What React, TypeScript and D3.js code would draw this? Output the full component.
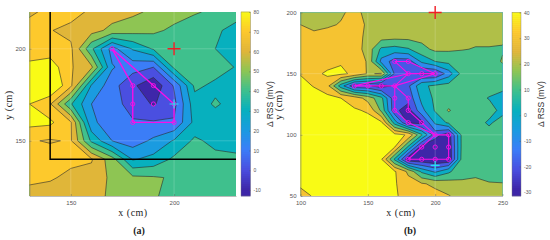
import React, { useEffect, useRef } from "react";
import * as d3 from "d3";

const gridA = [
  [68, 73, 74, 68, 65, 62, 58, 54, 51, 48, 45],
  [75, 70.5, 67, 64, 57, 54, 52, 48, 44, 42, 36],
  [76, 74, 72, 42, 16, 31, 41, 49, 46, 40, 34],
  [82, 86, 71, 62, 21, 14, 10, 42, 46, 44, 39.5],
  [84, 92, 72, 29, 14, 2, -8, 11, 42, 38, 36],
  [80, 71, 41, 20, 14, 6, -1, 7, 36, 41, 37],
  [83, 82, 71, 22, 15, 11, 11, 11, 33, 36, 35],
  [71, 69, 71, 38, 20, 15, 22, 31, 42, 37, 38],
  [73, 76, 72, 71, 54, 29, 33, 42, 45, 43, 41],
  [72, 71, 68, 66, 58, 52, 51, 49, 46, 46, 45],
  [67, 66, 65, 64, 58, 55, 51, 47, 45, 45, 44],
];

const gridB = [
  [25, 26, 27, 29, 32, 28, 26, 26, 26, 25, 24, 24, 23, 23, 22, 22],
  [30, 28, 29, 30.5, 33, 29, 26, 25, 25, 24, 24, 24, 23, 23, 23, 23],
  [33, 32, 33, 34, 35, 27, 24, 23, 23, 23, 23, 22, 22, 22, 22, 22],
  [34, 34, 34, 35, 35, 26, 8, 6, 9, 17, 22, 21.5, 20.5, 19.5, 19.5, 19],
  [35, 35, 35, 39, 36, 29, -3, -15, -15, 2, 10, 13, 14, 14, 14, 21],
  [39.5, 37, 42, 42, 38, 29, 31, -12, -18, -21, -21, -5, 13.5, 14, 14, 14],
  [43, 39.5, 33, 5, -18, -18, -25, -18, -12, 8, 12, 14, 14, 14, 14, 14],
  [44, 44, 43, 40, 36, 26, 13, -18, -17, 3, 12, 14, 14, 13, 9.5, 5],
  [44, 44, 44, 43, 41, 39, 18, -18, -24, -3, 11, 21, 14, 13, 14, 7],
  [44, 44, 44, 44, 43, 43, 42, 5, -22, -23, 2, 12, 14, 14, 8.5, 14],
  [44, 44, 44, 44, 44, 44, 44, 43, 39, 11, -16, -26, 13, 14, 14, 14],
  [44, 44, 44, 44, 44, 44, 44, 40, 8, -25, -28, -28, 13, 14, 14, 14],
  [44, 44, 44, 44, 44, 44, 41, 8, -28, -28, -30, -29, 14, 14, 14, 14],
  [43, 44, 44, 44, 44, 44, 43, 41, 28, 8, -2, 8, 18, 19, 14, 14],
  [42, 44, 44, 44, 44, 44, 43, 41, 34, 31, 28, 25, 21, 21, 21, 20.5],
  [36, 41, 44, 44, 44, 44, 43, 41, 37, 35, 33, 30.5, 27, 25, 25, 25],
];

const levelsA = d3.range(-10, 81, 10);
const levelsB = d3.range(-30, 41, 10);
const barTicksA = d3.range(-10, 81, 10);
const barTicksB = d3.range(-30, 41, 10);

const pathA = [[170, 200], [190, 180], [200, 170], [200, 160], [180, 160], [180, 170], [180, 180], [170, 200]];
const dotsA = [[170, 200], [190, 180], [200, 170], [200, 160], [180, 160], [180, 170], [180, 180], [190, 170]];

const pathB1 = [
  [170, 160], [180, 160], [200, 150], [180, 150], [170, 160], [180, 150], [140, 140], [170, 140], [200, 150],
];
const pathB2 = [
  [180, 150], [170, 140], [180, 130], [180, 120], [190, 110], [200, 100], [210, 100], [210, 90], [210, 80],
  [180, 80], [200, 100],
];
const pathB3 = [[170, 140], [170, 130], [170, 120], [180, 110], [200, 100]];
const dotsB = [
  [170, 160], [180, 160], [180, 150], [190, 150], [200, 150], [140, 140], [150, 140], [160, 140], [170, 140],
  [170, 130], [180, 130], [170, 120], [180, 120], [180, 110], [190, 110], [200, 100], [210, 100], [190, 90],
  [200, 90], [210, 90], [180, 80], [190, 80], [200, 80], [210, 80],
];

const parulaStops = ["#3e26a8", "#4a4fe0", "#3b7ef8", "#1a9be0", "#06b0bf", "#3fc08d", "#90c552", "#dfb53a", "#fdc82d", "#f9fb15"];
const parulaPos = [0.03, 0.14, 0.25, 0.355, 0.46, 0.57, 0.68, 0.78, 0.89, 1];
const parula = d3.scaleLinear<string>().domain(parulaPos).range(parulaStops).clamp(true);

type Panel = {
  grid: number[][];
  levels: number[];
  barTicks: number[];
  cLim: [number, number];
  xDom: [number, number];
  yDom: [number, number];
  xTicks: number[];
  yTicks: number[];
  box: { left: number; right: number; top: number; bottom: number };
  bar: { left: number; right: number };
  lines: number[][][];
  dots: number[][];
  red: number[];
  cyan: number[];
  frame: boolean;
  xLabelX: number;
  yLabelX: number;
  barLabelX: number;
  caption: string;
  captionX: number;
};

const panels: Panel[] = [
  {
    grid: gridA, levels: levelsA, barTicks: barTicksA, cLim: [-13, 80],
    xDom: [130, 230], yDom: [120, 220], xTicks: [150, 200], yTicks: [150, 200],
    box: { left: 29.5, right: 236, top: 12, bottom: 196 }, bar: { left: 241, right: 250.5 },
    lines: [pathA], dots: dotsA, red: [200, 200], cyan: [200, 170], frame: true,
    xLabelX: 133, yLabelX: 12, barLabelX: 273, caption: "(a)", captionX: 139,
  },
  {
    grid: gridB, levels: levelsB, barTicks: barTicksB, cLim: [-31.5, 40],
    xDom: [100, 250], yDom: [50, 200], xTicks: [100, 150, 200, 250], yTicks: [50, 100, 150, 200],
    box: { left: 300.5, right: 502.5, top: 12.5, bottom: 196 }, bar: { left: 512, right: 521 },
    lines: [pathB1, pathB2, pathB3], dots: dotsB, red: [200, 200], cyan: [200, 75], frame: false,
    xLabelX: 401, yLabelX: 282, barLabelX: 544, caption: "(b)", captionX: 410,
  },
];

const TICK_FONT = "'Liberation Sans', Arial, sans-serif";
const SERIF = "'Liberation Serif', 'DejaVu Serif', serif";

export default function App() {
  const ref = useRef<SVGSVGElement>(null);

  useEffect(() => {
    const svg = d3.select(ref.current);
    svg.selectAll("*").remove();

    panels.forEach((p, idx) => {
      const { box, bar } = p;
      const x = d3.scaleLinear().domain(p.xDom).range([box.left, box.right]);
      const y = d3.scaleLinear().domain(p.yDom).range([box.bottom, box.top]);
      const color = (v: number) => parula((v - p.cLim[0]) / (p.cLim[1] - p.cLim[0]));

      const clipId = `clip-${idx}`;
      svg.append("clipPath").attr("id", clipId).append("rect")
        .attr("x", box.left).attr("y", box.top)
        .attr("width", box.right - box.left).attr("height", box.bottom - box.top);

      const plot = svg.append("g").attr("clip-path", `url(#${clipId})`);
      plot.append("rect")
        .attr("x", box.left).attr("y", box.top)
        .attr("width", box.right - box.left).attr("height", box.bottom - box.top)
        .attr("fill", color(p.cLim[0]));

      // filled contours, lowest level first; grid row 0 is the top of the plot
      const rows = p.grid.length;
      const cols = p.grid[0].length;
      const stepX = (p.xDom[1] - p.xDom[0]) / (cols - 1);
      const stepY = (p.yDom[1] - p.yDom[0]) / (rows - 1);
      const contours = d3.contours().size([cols, rows]).thresholds(p.levels)(p.grid.flat());
      const toPx = d3.geoTransform({
        point(cx: number, cy: number) {
          this.stream.point(x(p.xDom[0] + (cx - 0.5) * stepX), y(p.yDom[1] - (cy - 0.5) * stepY));
        },
      });
      plot.selectAll("path.band").data(contours).enter().append("path")
        .attr("class", "band")
        .attr("d", d3.geoPath(toPx) as any)
        .attr("fill", (d) => color(d.value))
        .attr("stroke", "#2b2b2b")
        .attr("stroke-width", 0.6)
        .attr("stroke-linejoin", "round");

      // faint matlab grid over the fill
      p.xTicks.forEach((t) => {
        plot.append("line").attr("x1", x(t)).attr("x2", x(t)).attr("y1", box.top).attr("y2", box.bottom)
          .attr("stroke", "#fff").attr("stroke-opacity", 0.3).attr("stroke-width", 0.6);
      });
      p.yTicks.forEach((t) => {
        plot.append("line").attr("y1", y(t)).attr("y2", y(t)).attr("x1", box.left).attr("x2", box.right)
          .attr("stroke", "#fff").attr("stroke-opacity", 0.3).attr("stroke-width", 0.6);
      });

      const line = d3.line<number[]>().x((d) => x(d[0])).y((d) => y(d[1]));
      p.lines.forEach((l) => {
        plot.append("path").attr("d", line(l)).attr("fill", "none")
          .attr("stroke", "#f90fe8").attr("stroke-width", idx === 0 ? 1.4 : 1.1);
      });
      plot.selectAll("circle.stop").data(p.dots).enter().append("circle")
        .attr("class", "stop")
        .attr("cx", (d) => x(d[0])).attr("cy", (d) => y(d[1])).attr("r", 2.1)
        .attr("fill", "none").attr("stroke", "#f90fe8").attr("stroke-width", 0.9);

      if (p.frame) {
        plot.append("path")
          .attr("d", line([[140, 220], [140, 140], [230, 140]]))
          .attr("fill", "none").attr("stroke", "#000").attr("stroke-width", 1.5);
      }

      // crosses may poke out of the box
      const cross = (pos: number[], col: string, r: number, w: number) => {
        const cx = x(pos[0]);
        const cy = y(pos[1]);
        svg.append("path").attr("d", `M${cx - r},${cy}H${cx + r}M${cx},${cy - r}V${cy + r}`)
          .attr("stroke", col).attr("stroke-width", w).attr("fill", "none");
      };
      cross(p.cyan, "#22e6ee", 4.5, 1.2);
      cross(p.red, "#f01c24", 6.5, 1.4);

      const axisStyle = (g: any) => {
        g.selectAll("text").attr("font-family", TICK_FONT).attr("font-size", 6).attr("fill", "#555");
        g.selectAll("line").attr("stroke", "#555").attr("stroke-width", 0.4);
        g.select(".domain").attr("stroke", "#777").attr("stroke-width", 0.5);
      };
      svg.append("g").attr("transform", `translate(0,${box.bottom})`)
        .call(d3.axisBottom(x).tickValues(p.xTicks).tickSizeInner(-2).tickSizeOuter(0).tickPadding(5))
        .call(axisStyle);
      svg.append("g").attr("transform", `translate(${box.left},0)`)
        .call(d3.axisLeft(y).tickValues(p.yTicks).tickSizeInner(-2).tickSizeOuter(0).tickPadding(4))
        .call(axisStyle);

      // colorbar
      const barY = d3.scaleLinear().domain(p.cLim).range([box.bottom, box.top]);
      const steps = d3.range(p.cLim[0], p.cLim[1], (p.cLim[1] - p.cLim[0]) / 92);
      svg.append("g").selectAll("rect").data(steps).enter().append("rect")
        .attr("x", bar.left).attr("width", bar.right - bar.left)
        .attr("y", (d) => barY(d) - (box.bottom - box.top) / 92 - 0.3)
        .attr("height", (box.bottom - box.top) / 92 + 0.6)
        .attr("fill", (d) => color(d));
      svg.append("rect").attr("x", bar.left).attr("y", box.top)
        .attr("width", bar.right - bar.left).attr("height", box.bottom - box.top)
        .attr("fill", "none").attr("stroke", "#777").attr("stroke-width", 0.4);
      svg.append("g").attr("transform", `translate(${bar.right},0)`)
        .call(d3.axisRight(barY).tickValues(p.barTicks).tickFormat((d) => String(d)).tickSizeInner(-1.5).tickSizeOuter(0).tickPadding(3))
        .call((g) => {
          axisStyle(g);
          g.selectAll("text").attr("font-size", 5);
          g.select(".domain").remove();
        });

      // labels
      const serif = (sel: any) => sel.attr("font-family", SERIF).attr("fill", "#222").attr("text-anchor", "middle");
      svg.append("text").attr("x", p.xLabelX).attr("y", 216).attr("font-size", 10).attr("letter-spacing", 0.5).call(serif).text("x (cm)");
      svg.append("text").attr("transform", `translate(${p.yLabelX},105) rotate(-90)`).attr("font-size", 10).attr("letter-spacing", 0.5).call(serif).text("y (cm)");
      svg.append("text").attr("x", p.captionX).attr("y", 234).attr("font-size", 10).attr("font-weight", "bold").call(serif).text(p.caption);
      svg.append("text").attr("transform", `translate(${p.barLabelX},104) rotate(-90)`)
        .attr("font-family", TICK_FONT).attr("font-size", 8.5).attr("fill", "#333").attr("text-anchor", "middle")
        .text("Δ RSS (mV)");
    });
  }, []);

  return <svg ref={ref} width={550} height={240} style={{ position: "absolute", left: 0, top: 0, background: "#fff" }} />;
}
